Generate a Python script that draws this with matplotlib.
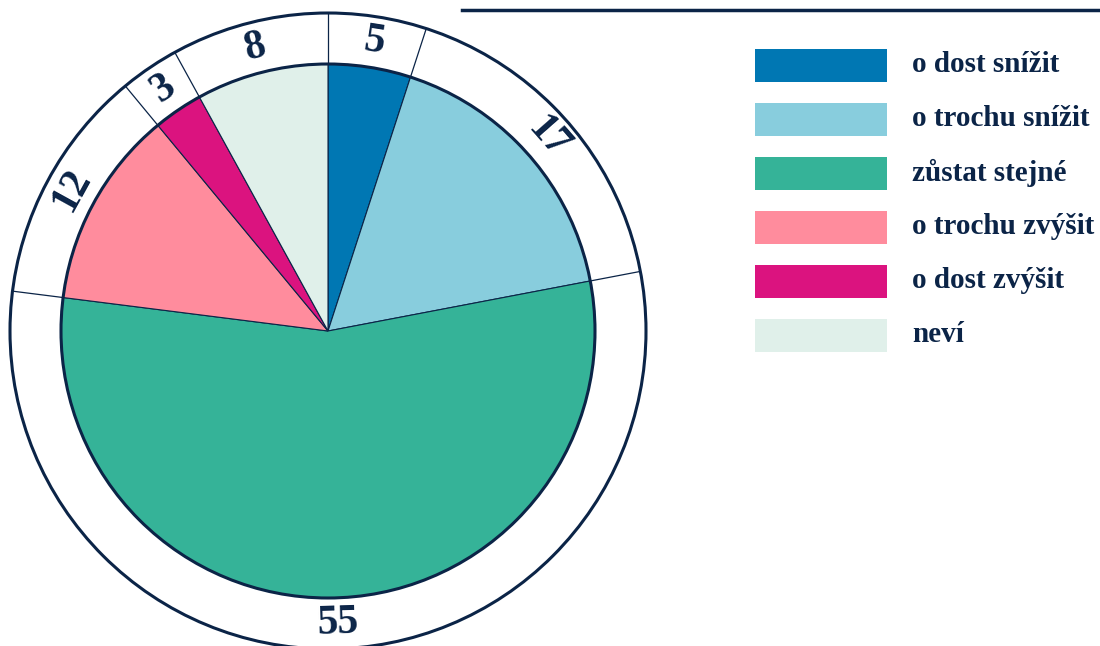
import numpy as np
import matplotlib
matplotlib.use('Agg')
import matplotlib.pyplot as plt
from matplotlib.patches import Circle, Rectangle

# data (percent)
labels = ['o dost snížit', 'o trochu snížit', 'zůstat stejné',
          'o trochu zvýšit', 'o dost zvýšit', 'neví']
values = [5, 17, 55, 12, 3, 8]
colors = ['#0077b3', '#88cddd', '#35b398', '#ff8c9d', '#db137f', '#e0f0ea']

navy = '#0b2447'
plt.rcParams['font.family'] = ['Liberation Serif', 'DejaVu Serif']
plt.rcParams['font.weight'] = 'bold'

W, H = 1100, 646
fig = plt.figure(figsize=(W/100, H/100), dpi=100)
ax = fig.add_axes([0, 0, 1, 1])

cx, cy = 328, H - 331   # pie centre in pixel coords
r_in, r_out = 267, 318

ax.pie(values, colors=colors, startangle=90, counterclock=False,
       center=(cx, cy), radius=r_in,
       wedgeprops=dict(edgecolor=navy, linewidth=0.8))
ax.add_patch(Circle((cx, cy), r_in, fill=False, edgecolor=navy, lw=2.2))
ax.add_patch(Circle((cx, cy), r_out, fill=False, edgecolor=navy, lw=2.2))

# ring separators and values
total = sum(values)
bounds = 90 - 360*np.cumsum([0] + values)/total
for a in bounds[:-1]:
    t = np.radians(a)
    ax.plot([cx + r_in*np.cos(t), cx + r_out*np.cos(t)],
            [cy + r_in*np.sin(t), cy + r_out*np.sin(t)], color=navy, lw=0.9)

r_lab = (r_in + r_out)/2
for v, a0, a1 in zip(values, bounds[:-1], bounds[1:]):
    mid = (a0 + a1)/2
    t = np.radians(mid)
    rot = (mid - 90) % 360
    if 90 < rot < 270:
        rot -= 180   # keep bottom labels upright
    ax.text(cx + r_lab*np.cos(t), cy + r_lab*np.sin(t), str(v),
            rotation=rot, rotation_mode='anchor', ha='center', va='center',
            fontsize=30, color=navy, fontweight='bold')

# legend
for i, (lab, col) in enumerate(zip(labels, colors)):
    yc = H - (65 + 54*i)
    ax.add_patch(Rectangle((755, yc - 16.5), 132, 33, facecolor=col, edgecolor='none'))
    ax.text(912, yc, lab, ha='left', va='center', fontsize=21, color=navy,
            fontweight='bold')

# rule at the top
ax.plot([462, 1098], [H - 10, H - 10], color=navy, lw=2.5)

ax.set_xlim(0, W)
ax.set_ylim(0, H)
ax.set_aspect('equal')
ax.axis('off')
fig.savefig('out.png', dpi=100)
